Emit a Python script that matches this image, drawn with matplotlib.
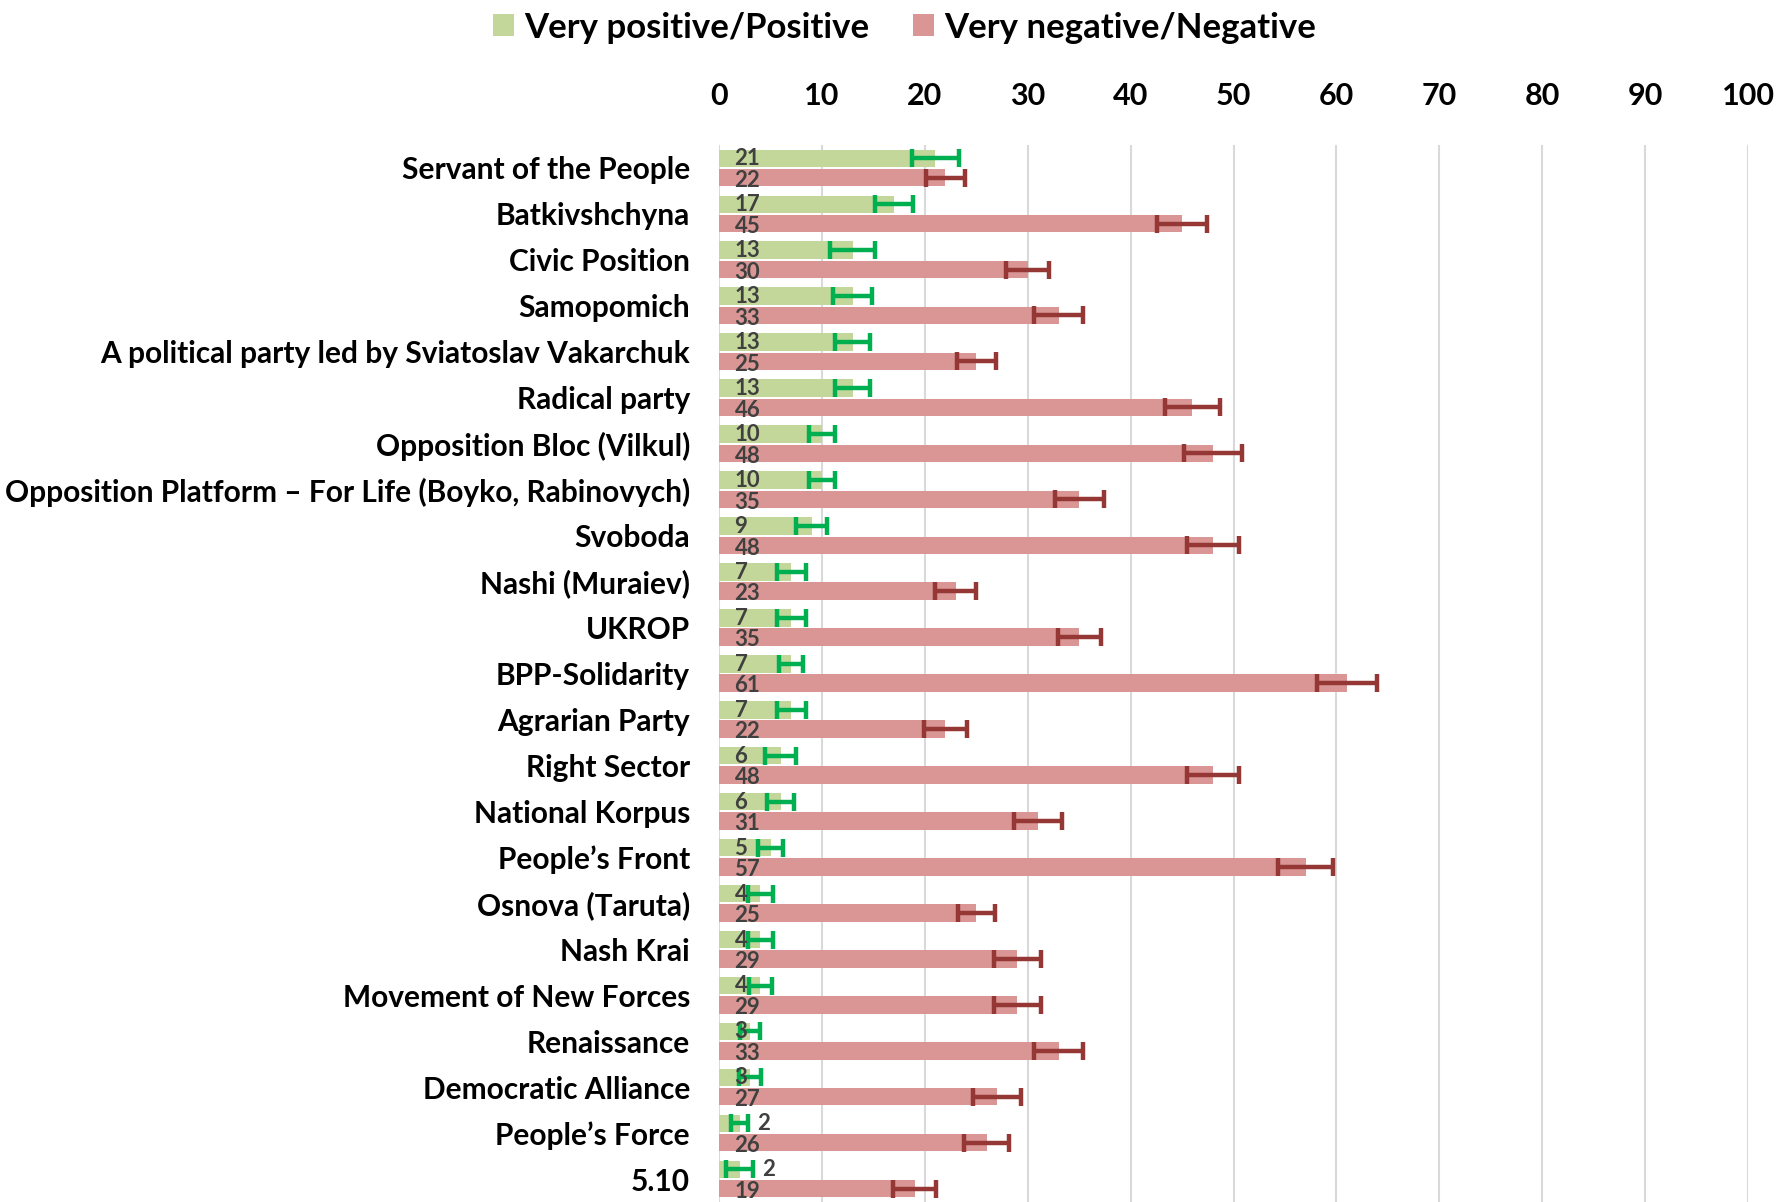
#!/usr/bin/env python3
"""
plot.py - Attitudes towards political parties: positive vs negative shares
with error bars, horizontal grouped bars.
"""

import numpy as np
import matplotlib
matplotlib.use("Agg")
import matplotlib.pyplot as plt
from matplotlib.patches import Patch

# Data
PARTIES = [
    "Servant of the People",
    "Batkivshchyna",
    "Civic Position",
    "Samopomich",
    "A political party led by Sviatoslav Vakarchuk",
    "Radical party",
    "Opposition Bloc (Vilkul)",
    "Opposition Platform \u2013 For Life (Boyko, Rabinovych)",
    "Svoboda",
    "Nashi (Muraiev)",
    "UKROP",
    "BPP-Solidarity",
    "Agrarian Party",
    "Right Sector",
    "National Korpus",
    "People\u2019s Front",
    "Osnova (Taruta)",
    "Nash Krai",
    "Movement of New Forces",
    "Renaissance",
    "Democratic Alliance",
    "People\u2019s Force",
    "5.10",
]
POSITIVE = [21, 17, 13, 13, 13, 13, 10, 10, 9, 7, 7, 7, 7, 6, 6, 5, 4, 4, 4, 3, 3, 2, 2]
NEGATIVE = [22, 45, 30, 33, 25, 46, 48, 35, 48, 23, 35, 61, 22, 48, 31, 57, 25, 29, 29, 33, 27, 26, 19]
POS_ERR = [2.3, 1.8, 2.2, 1.9, 1.7, 1.7, 1.3, 1.3, 1.5, 1.4, 1.4, 1.2, 1.4, 1.5, 1.3, 1.2,
           1.2, 1.2, 1.1, 1.0, 1.1, 0.8, 1.3]
NEG_ERR = [1.9, 2.4, 2.1, 2.4, 1.9, 2.7, 2.8, 2.4, 2.5, 2.0, 2.1, 2.9, 2.1, 2.5, 2.3, 2.7,
           1.8, 2.3, 2.3, 2.4, 2.3, 2.2, 2.1]
LEGEND = ["Very positive/Positive", "Very negative/Negative"]

# Styling
GREEN = "#c4d79b"
PINK = "#d99694"
GREEN_ERR = "#00b050"
RED_ERR = "#953735"
LABEL_COLOR = "#404040"
FONT = "Lato"

plt.rcParams["font.family"] = [FONT, "DejaVu Sans"]
plt.rcParams["font.weight"] = "bold"

fig = plt.figure(figsize=(17.83, 12.02), dpi=100)
ax = fig.add_axes([0.4033, 0.0, 0.9804 - 0.4033, 0.8794])

n = len(PARTIES)
y = np.arange(n)
bar_h = 0.38
y_pos = y - 0.21
y_neg = y + 0.21

err_kw_pos = dict(ecolor=GREEN_ERR, elinewidth=3.2, capsize=6.5, capthick=3.2)
err_kw_neg = dict(ecolor=RED_ERR, elinewidth=3.2, capsize=6.5, capthick=3.2)

ax.barh(y_pos, POSITIVE, height=bar_h, color=GREEN, xerr=POS_ERR,
        error_kw=err_kw_pos, zorder=2)
ax.barh(y_neg, NEGATIVE, height=bar_h, color=PINK, xerr=NEG_ERR,
        error_kw=err_kw_neg, zorder=2)

# Value labels (inside base, small values pushed past the error bar)
for i in range(n):
    if POSITIVE[i] <= 2:
        xp = POSITIVE[i] + POS_ERR[i] + 0.9
    else:
        xp = 1.5
    ax.text(xp, y_pos[i] + 0.01, str(POSITIVE[i]), ha="left", va="center",
            fontsize=16, color=LABEL_COLOR, fontweight="bold", zorder=4)
    ax.text(1.5, y_neg[i] + 0.06, str(NEGATIVE[i]), ha="left", va="center",
            fontsize=16, color=LABEL_COLOR, fontweight="bold", zorder=4)

ax.set_xlim(0, 100)
ax.set_ylim(n - 0.5, -0.5)
ax.set_xticks(np.arange(0, 101, 10))
ax.set_yticks(y)
ax.set_yticklabels(PARTIES, fontsize=21.5, fontweight="bold")
ax.xaxis.tick_top()
ax.tick_params(axis="x", length=0, pad=25, labelsize=22)
ax.tick_params(axis="y", length=0, pad=21)
for lab in ax.get_xticklabels():
    lab.set_fontweight("bold")

ax.grid(axis="x", color="#d9d9d9", linewidth=1.5, zorder=0)
ax.set_axisbelow(True)
for s in ax.spines.values():
    s.set_visible(False)

handles = [Patch(facecolor=GREEN), Patch(facecolor=PINK)]
fig.legend(handles, LEGEND, loc="center", bbox_to_anchor=(0.5073, 0.977), ncol=2,
           frameon=False, handlelength=0.6, handleheight=0.6,
           handletextpad=0.3, columnspacing=1.24, prop={"weight": "bold", "size": 25})

fig.savefig("out.png", dpi=100)
